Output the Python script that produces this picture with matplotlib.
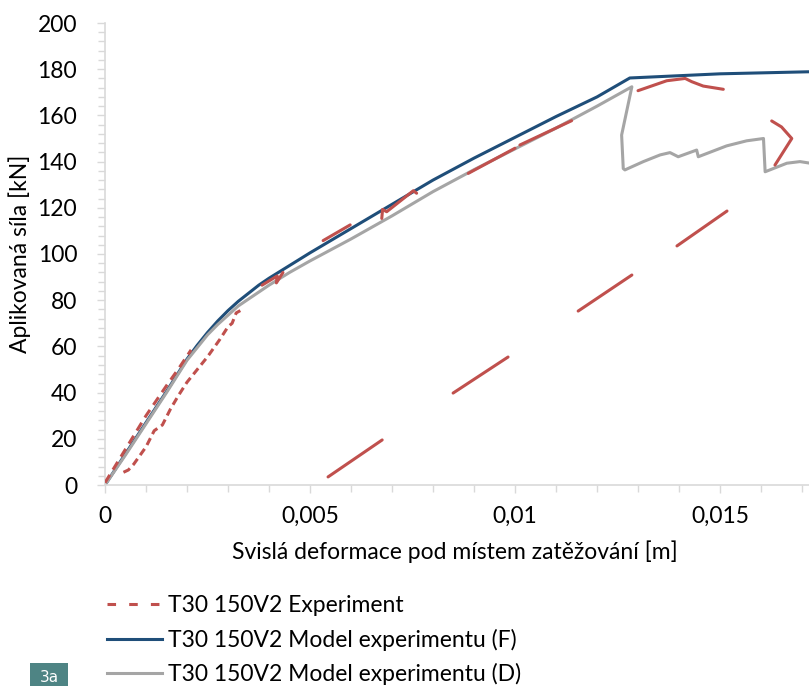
import numpy as np
import matplotlib
matplotlib.use("Agg")
import matplotlib.pyplot as plt
from matplotlib.lines import Line2D
from matplotlib.patches import Rectangle
from matplotlib.ticker import MultipleLocator, FuncFormatter

plt.rcParams['font.family'] = ['Lato', 'DejaVu Sans']

# Model experimentu (F) - blue
model_f_x = [0, 0.0005, 0.001, 0.0015, 0.002, 0.00225, 0.0025, 0.00275, 0.003, 0.00325,
             0.0035, 0.00375, 0.004, 0.0045, 0.005, 0.006, 0.007, 0.008, 0.009, 0.010,
             0.011, 0.012, 0.0128, 0.015, 0.0172]
model_f_y = [0, 13.5, 27, 40.5, 54.5, 60.5, 66, 71, 75.5, 79.5,
             83, 86.5, 89.5, 95, 100.5, 111, 121.5, 132, 141.5, 150.5,
             159.5, 168, 176.2, 178, 178.9]

# Model experimentu (D) - gray
model_d_x = [0, 0.0005, 0.001, 0.0015, 0.002, 0.00225, 0.0025, 0.00275, 0.003, 0.00325,
             0.0035, 0.00375, 0.004, 0.0045, 0.005, 0.006, 0.007, 0.008, 0.009, 0.010,
             0.011, 0.012, 0.01285,
             0.0126, 0.01264, 0.01268, 0.01313, 0.01354, 0.01378, 0.01398, 0.01443,
             0.01447, 0.01516, 0.01565, 0.01606, 0.0161, 0.01663, 0.01695, 0.0172]
model_d_y = [0, 13, 26.5, 40, 54, 59.5, 65, 69.5, 73.5, 77.5,
             80.5, 83.5, 86.5, 92, 97, 106.5, 116.5, 127, 136.5, 145.5,
             154.5, 164, 172.4,
             151.5, 137, 136.4, 140, 142.9, 143.9, 142.1, 145,
             142.1, 146.8, 149, 150, 135.6, 139.3, 140, 139.3]

# Experiment - initial loading traces near origin
exp_a_x = [0, 0.0005, 0.001, 0.0015, 0.0018, 0.0021]
exp_a_y = [1, 15.5, 30, 43, 50.5, 58.5]
exp_b_x = [0.00045, 0.00057, 0.0007, 0.001, 0.0012, 0.0014, 0.0016, 0.0018, 0.002,
           0.0025, 0.0028, 0.003, 0.0031, 0.0032, 0.0033]
exp_b_y = [5.5, 6.5, 9, 16.5, 23.5, 26, 33, 39, 44.5, 55.5, 63, 68.5, 70, 74.5, 75.5]

# Experiment - remaining visible pieces (NaN = gap)
nan = np.nan
exp_c_x = [0.00383, 0.0042, 0.00418, 0.00434, nan,
           0.00532, 0.00598, nan,
           0.00675, 0.00677, 0.00687, 0.00752, 0.0076, nan,
           0.00886, 0.0100, nan,
           0.01012, 0.01138, nan,
           0.0130, 0.0137, 0.01415, 0.01431, 0.01459, 0.01508, nan,
           0.01626, 0.0165, 0.01675, 0.01634, nan,
           0.00544, 0.00676, nan,
           0.00849, 0.00983, nan,
           0.01154, 0.01285, nan,
           0.01395, 0.01517]
exp_c_y = [86.5, 90.5, 87.5, 92, nan,
           105.8, 112.6, nan,
           115.4, 119.3, 118.3, 127.4, 126.3, nan,
           134.9, 145.8, nan,
           147.2, 157.7, nan,
           170.7, 175, 176, 174.6, 172.7, 171.3, nan,
           157.6, 155, 150, 138.5, nan,
           3.5, 19.5, nan,
           39.8, 55.4, nan,
           75.3, 90.9, nan,
           103.5, 118.6]

labels = ["T30 150V2 Experiment",
          "T30 150V2 Model experimentu (F)",
          "T30 150V2 Model experimentu (D)"]

red = '#c0504d'
blue = '#1f4e79'
gray = '#a5a5a5'
axis_col = '#d9d9d9'
fs = 16.5

fig = plt.figure(figsize=(8.09, 6.86), dpi=100)
ax = fig.add_axes([105 / 809, 1 - 485 / 686, 1 - 105 / 809, (485 - 23) / 686])

ax.plot(exp_a_x, exp_a_y, color=red, lw=2.2, ls=(0, (3, 2)), zorder=3)
ax.plot(exp_b_x, exp_b_y, color=red, lw=2.2, ls=(0, (2.5, 1.5)), zorder=3)
ax.plot(exp_c_x, exp_c_y, color=red, lw=2.2, solid_capstyle='round', zorder=3)
ax.plot(model_f_x, model_f_y, color=blue, lw=2.2, zorder=2)
ax.plot(model_d_x, model_d_y, color=gray, lw=2.2, zorder=2)

ax.set_xlim(0, 0.01717)
ax.set_ylim(0, 200)
ax.xaxis.set_major_locator(MultipleLocator(0.005))
ax.xaxis.set_minor_locator(MultipleLocator(0.001))
ax.yaxis.set_major_locator(MultipleLocator(20))
ax.yaxis.set_minor_locator(MultipleLocator(4))
ax.xaxis.set_major_formatter(FuncFormatter(lambda v, p: ('%g' % round(v, 4)).replace('.', ',')))

for s in ['top', 'right']:
    ax.spines[s].set_visible(False)
for s in ['left', 'bottom']:
    ax.spines[s].set_color(axis_col)
    ax.spines[s].set_linewidth(1.2)
ax.tick_params(which='both', color=axis_col, width=1, direction='out')
ax.tick_params(which='major', length=6, labelsize=fs, labelcolor='black')
ax.tick_params(which='minor', length=5)
ax.tick_params(axis='y', which='major', pad=14)
ax.tick_params(axis='x', which='major', pad=9)

ax.set_xlabel("Svislá deformace pod místem zatěžování [m]", fontsize=fs)
ax.set_ylabel("Aplikovaná síla [kN]", fontsize=fs)
ax.xaxis.set_label_coords(0.497, (485 - 540) / 462)
ax.yaxis.set_label_coords((31 - 105) / 704, 0.5)

handles = [Line2D([], [], color=red, lw=2.2, ls=(0, (2.8, 4.3))),
           Line2D([], [], color=blue, lw=2.2),
           Line2D([], [], color=gray, lw=2.2)]
fig.legend(handles, labels, loc='upper left', bbox_to_anchor=(107 / 809, 1 - 595 / 686),
           frameon=False, fontsize=fs, handlelength=2.4, handletextpad=0.26,
           labelspacing=0.55, borderpad=0, borderaxespad=0)

fig.patches.append(Rectangle((30 / 809, 0), 38 / 809, 23 / 686, transform=fig.transFigure,
                             facecolor='#4e8484', edgecolor='none'))
fig.text(49 / 809, 1 / 686, "3a", color='white', fontsize=11, ha='center', va='bottom',
         family='DejaVu Sans')

fig.savefig("out.png", dpi=100)
